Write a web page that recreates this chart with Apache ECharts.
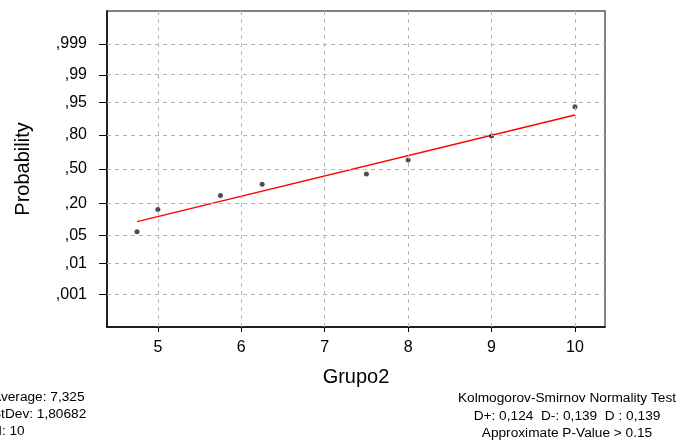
<!DOCTYPE html>
<html>
<head>
<meta charset="utf-8">
<script src="https://cdn.jsdelivr.net/npm/echarts@6/dist/echarts.min.js"></script>
<style>html,body{margin:0;padding:0;background:#fff;}#c{width:680px;height:445px;}</style>
</head>
<body>
<div id="c"></div>
<script>
// ---- data ----
var pointX = [4.75, 5.0, 5.75, 6.25, 7.5, 8.0, 9.0, 10.0];
var pointProb = [0.061, 0.159, 0.256, 0.354, 0.451, 0.588, 0.792, 0.938];
var fitX = [4.75, 10.0];
var fitProb = [0.097, 0.909];
var probTicks = [0.001, 0.01, 0.05, 0.20, 0.50, 0.80, 0.95, 0.99, 0.999];
var probTickLabels = [',001', ',01', ',05', ',20', ',50', ',80', ',95', ',99', ',999'];
var xTicks = [5, 6, 7, 8, 9, 10];
var statsLeft = ['Average: 7,325', 'StDev: 1,80682', 'N: 10'];
var statsRight = ['Kolmogorov-Smirnov Normality Test', 'D+: 0,124  D-: 0,139  D : 0,139', 'Approximate P-Value > 0.15'];

// normal probability scale (inverse standard normal CDF, Acklam)
function probScale(p) {
  var a = [-3.969683028665376e+01, 2.209460984245205e+02, -2.759285104469687e+02, 1.383577518672690e+02, -3.066479806614716e+01, 2.506628277459239e+00];
  var b = [-5.447609879822406e+01, 1.615858368580409e+02, -1.556989798598866e+02, 6.680131188771972e+01, -1.328068155288572e+01];
  var c = [-7.784894002430293e-03, -3.223964580411365e-01, -2.400758277161838e+00, -2.549732539343734e+00, 4.374664141464968e+00, 2.938163982698783e+00];
  var d = [7.784695709041462e-03, 3.224671290700398e-01, 2.445134137142996e+00, 3.754408661907416e+00];
  var pl = 0.02425, q, r;
  if (p < pl) {
    q = Math.sqrt(-2 * Math.log(p));
    return (((((c[0]*q+c[1])*q+c[2])*q+c[3])*q+c[4])*q+c[5]) / ((((d[0]*q+d[1])*q+d[2])*q+d[3])*q+1);
  } else if (p <= 1 - pl) {
    q = p - 0.5; r = q*q;
    return (((((a[0]*r+a[1])*r+a[2])*r+a[3])*r+a[4])*r+a[5])*q / (((((b[0]*r+b[1])*r+b[2])*r+b[3])*r+b[4])*r+1);
  } else {
    q = Math.sqrt(-2 * Math.log(1 - p));
    return -(((((c[0]*q+c[1])*q+c[2])*q+c[3])*q+c[4])*q+c[5]) / ((((d[0]*q+d[1])*q+d[2])*q+d[3])*q+1);
  }
}

var tickZ = probTicks.map(probScale);
var labelFor = function (v) {
  for (var i = 0; i < tickZ.length; i++) { if (Math.abs(tickZ[i] - v) < 1e-6) return probTickLabels[i]; }
  return '';
};
var pts = pointX.map(function (x, i) { return [x, probScale(pointProb[i])]; });
var fit = fitX.map(function (x, i) { return [x, probScale(fitProb[i])]; });

var FONT = 'Liberation Sans, Arial, sans-serif';
var gridLineStyle = { color: '#b4b4b4', type: [4, 4], width: 1 };

var chart = echarts.init(document.getElementById('c'), null, { renderer: 'canvas' });
var textEls = [];
statsLeft.forEach(function (t, i) {
  textEls.push({ type: 'text', left: -8, top: 392 + i * 17, scaleX: 1.14, originX: 0,
    style: { text: t, fontSize: 12, fontFamily: FONT, fill: '#000' } });
});
statsRight.forEach(function (t, i) {
  textEls.push({ type: 'text', x: 567, y: 399 + i * 17.5, scaleX: 1.14,
    style: { text: t, fontSize: 12, fontFamily: FONT, fill: '#000', align: 'center', verticalAlign: 'middle' } });
});

chart.setOption({
  animation: false,
  backgroundColor: '#fff',
  grid: { left: 107, top: 11, right: 75, bottom: 118, show: true, borderColor: '#5a5a5a', borderWidth: 1.5, backgroundColor: 'transparent' },
  xAxis: {
    type: 'value', min: 4.39, max: 10.36,
    name: 'Grupo2', nameLocation: 'middle', nameGap: 40,
    nameTextStyle: { fontSize: 20, fontFamily: FONT, color: '#000' },
    axisLine: { show: true, onZero: false, lineStyle: { color: '#000', width: 1.5 } },
    axisTick: { show: true, length: 5, lineStyle: { color: '#000' }, customValues: xTicks },
    axisLabel: { fontSize: 16, fontFamily: FONT, color: '#000', margin: 13, customValues: xTicks },
    splitLine: { show: false }
  },
  yAxis: {
    type: 'value', min: -3.9, max: 3.9,
    name: 'Probability', nameLocation: 'middle', nameGap: 74, nameRotate: 90,
    nameTextStyle: { fontSize: 20, fontFamily: FONT, color: '#000' },
    axisLine: { show: true, onZero: false, lineStyle: { color: '#000', width: 1.5 } },
    axisTick: { show: true, length: 8, lineStyle: { color: '#000' }, customValues: tickZ },
    axisLabel: { fontSize: 16, fontFamily: FONT, color: '#000', margin: 20, customValues: tickZ, formatter: labelFor },
    splitLine: { show: false }
  },
  series: [
    {
      type: 'line', data: [], silent: true,
      markLine: {
        silent: true, symbol: 'none', label: { show: false }, lineStyle: gridLineStyle, animation: false,
        data: tickZ.map(function (z) { return { yAxis: z }; }).concat(xTicks.map(function (x) { return { xAxis: x }; }))
      }
    },
    {
      type: 'line', data: fit, showSymbol: false, silent: true,
      lineStyle: { color: '#ff0000', width: 1.5 }, z: 3
    },
    {
      type: 'scatter', data: pts, symbol: 'circle', symbolSize: 5, silent: true,
      itemStyle: { color: '#222' }, z: 4
    }
  ],
  graphic: textEls
});
</script>
</body>
</html>
